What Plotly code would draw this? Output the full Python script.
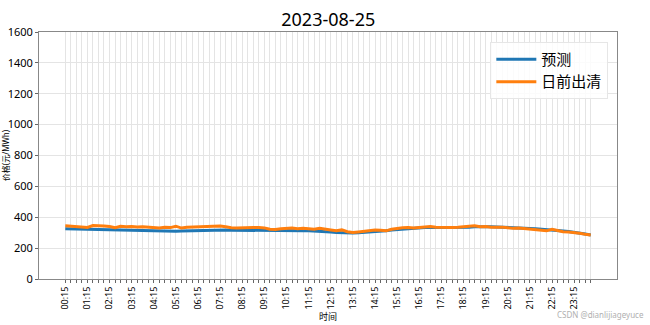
import plotly.graph_objects as go

# 96 quarter-hour time points 00:15 ... 24:00
times = []
for i in range(96):
    m = (i + 1) * 15
    times.append(f"{m // 60:02d}:{m % 60:02d}")

forecast = [
    325, 324, 323, 322, 321, 320, 319, 318,
    317, 316, 315, 314, 313, 312, 311, 310,
    310, 309, 309, 309, 310, 311, 312, 313,
    315, 316, 317, 318, 318, 317, 316, 316,
    316, 316, 316, 315, 316, 317, 317, 317,
    316, 315, 314, 313, 312, 311, 310, 309,
    305, 302, 300, 299, 298, 299, 301, 304,
    307, 310, 313, 317, 320, 324, 327, 330,
    332, 333, 334, 334, 333, 332, 332, 332,
    334, 336, 338, 339, 339, 338, 337, 336,
    335, 333, 331, 329, 327, 325, 323, 320,
    317, 314, 311, 307, 303, 298, 292, 285,
]

dayahead = [
    345, 342, 339, 336, 334, 346, 347, 344,
    340, 332, 341, 338, 340, 337, 339, 336,
    334, 331, 335, 333, 342, 330, 335, 336,
    336, 338, 337, 340, 343, 338, 332, 331,
    333, 332, 334, 333, 331, 322, 320, 325,
    328, 330, 326, 329, 326, 322, 328, 325,
    318, 312, 318, 306, 301, 305, 308, 312,
    318, 316, 312, 322, 328, 332, 334, 330,
    334, 338, 340, 336, 334, 332, 334, 336,
    340, 342, 345, 338, 340, 336, 338, 336,
    332, 328, 330, 326, 322, 320, 318, 312,
    322, 312, 306, 304, 302, 296, 290, 285,
]

title_text = "2023-08-25"
y_ticks = [0, 200, 400, 600, 800, 1000, 1200, 1400, 1600]
tick_text = [t if i % 4 == 0 else "" for i, t in enumerate(times)]

FONT = "Noto Sans, Noto Sans CJK SC, sans-serif"

fig = go.Figure()
fig.add_trace(go.Scatter(x=times, y=forecast, mode="lines", name="预测",
                         line=dict(color="#1f77b4", width=3)))
fig.add_trace(go.Scatter(x=times, y=dayahead, mode="lines", name="日前出清",
                         line=dict(color="#ff7f0e", width=3)))

fig.update_layout(
    width=650, height=325,
    margin=dict(l=39, r=33, t=32, b=46, autoexpand=False),
    paper_bgcolor="white", plot_bgcolor="white",
    font=dict(family=FONT, color="#000"),
    title=dict(text=title_text, x=0.505, xanchor="center", y=0.94, yanchor="middle",
               font=dict(size=18, family=FONT)),
    legend=dict(x=0.985, y=0.96, xanchor="right", yanchor="top",
                bgcolor="rgba(255,255,255,0.85)", bordercolor="#e6e6e6", borderwidth=1,
                font=dict(size=15, family=FONT), itemwidth=40, tracegroupgap=4),
    showlegend=True,
)

fig.update_xaxes(
    type="category", range=[-4.75, 99.75], automargin=False,
    tickmode="array", tickvals=times, ticktext=tick_text, tickangle=-90,
    tickfont=dict(size=9, family=FONT),
    ticks="outside", ticklen=3, tickcolor="#666",
    showgrid=True, gridcolor="#e4e4e4", gridwidth=0.8,
    showline=True, linecolor="#888", linewidth=1, mirror=True,
    title=dict(text="时间", font=dict(size=9, family=FONT), standoff=0),
    zeroline=False,
)
fig.update_yaxes(
    range=[0, 1600], tickmode="array", tickvals=y_ticks, automargin=False,
    tickfont=dict(size=11, family=FONT),
    ticks="outside", ticklen=3, tickcolor="#666",
    showgrid=True, gridcolor="#e4e4e4", gridwidth=0.8,
    showline=True, linecolor="#888", linewidth=1, mirror=True,
    title=dict(text="价格(元/MWh)", font=dict(size=8, family=FONT), standoff=3),
    zeroline=False,
)

fig.add_annotation(text="CSDN @dianlijiageyuce", xref="paper", yref="paper",
                   x=1.05, y=-0.145, xanchor="right", yanchor="middle",
                   showarrow=False, font=dict(size=8, color="#b0b0b0", family=FONT))

fig.write_html("out.html", config={"displayModeBar": False},
               post_script="document.body.style.margin='0';")
